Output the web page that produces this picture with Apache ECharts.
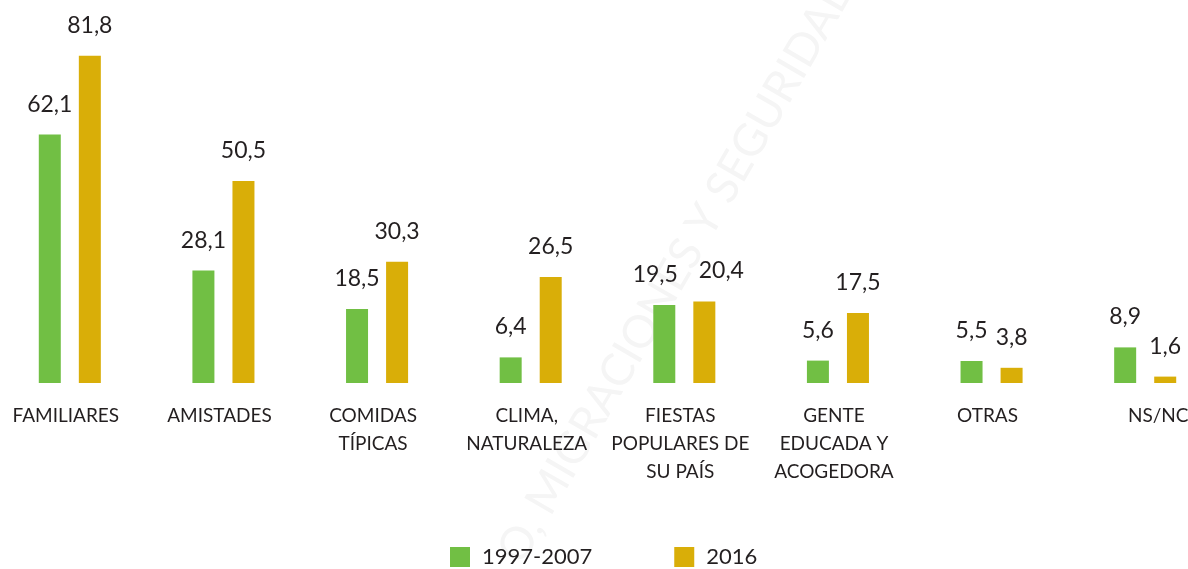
<!DOCTYPE html>
<html>
<head>
<meta charset="utf-8">
<script src="https://cdn.jsdelivr.net/npm/echarts@6/dist/echarts.min.js"></script>
<style>
  html, body { margin: 0; padding: 0; background: #fff; overflow: hidden; }
  #chart { width: 1229px; height: 569px; margin-left: -7px; }
</style>
</head>
<body>
<div id="chart"></div>
<script>
// categorías del eje x
const categories = [
  'FAMILIARES',
  'AMISTADES',
  'COMIDAS\nTÍPICAS',
  'CLIMA,\nNATURALEZA',
  'FIESTAS\nPOPULARES DE\nSU PAÍS',
  'GENTE\nEDUCADA Y\nACOGEDORA',
  'OTRAS',
  'NS/NC'
]
const seriesNames = ['1997-2007', '2016']
const values1997 = [62.1, 28.1, 18.5, 6.4, 19.5, 5.6, 5.5, 8.9]
const values2016 = [81.8, 50.5, 30.3, 26.5, 20.4, 17.5, 3.8, 1.6]

const textColor = '#231f20'
const fontFamily = 'Lato, "Noto Sans", sans-serif'

const chart = echarts.init(document.getElementById('chart'))

const labelOpt = {
  show: true,
  position: 'top',
  distance: 19,
  color: textColor,
  fontSize: 23,
  fontFamily: fontFamily,
  formatter: p => p.value.toFixed(1).replace('.', ',')
}

// la última etiqueta queda algo desplazada a la derecha en el original
const xData = categories.map((c, i) => i === categories.length - 1
  ? { value: c, textStyle: { padding: [0, 0, 0, 26] } }
  : c)

// en FIESTAS las etiquetas de valor se separan para no solaparse
function withOffset(arr, dx) {
  return arr.map((v, i) => i === 4 ? { value: v, label: { offset: [dx, 0] } } : v)
}

chart.setOption({
  animation: false,
  color: ['#71bf44', '#d9ae08'],
  // marca de agua tenue
  graphic: [{
    type: 'text',
    rotation: 60 * Math.PI / 180,
    x: 497,
    y: 548,
    style: {
      text: 'O, MIGRACIONES Y SEGURIDAD',
      fontSize: 45,
      fontFamily: fontFamily,
      fill: '#f5f5f5'
    },
    z: -1
  }],
  legend: {
    data: seriesNames,
    left: 452,
    bottom: -4,
    icon: 'rect',
    itemWidth: 20,
    itemHeight: 20,
    itemGap: 82,
    textStyle: {
      color: textColor,
      fontSize: 22,
      fontFamily: fontFamily,
      padding: [0, 0, 0, 7]
    }
  },
  grid: {
    left: 0,
    right: 0,
    top: 23,
    bottom: 186,
    containLabel: false
  },
  xAxis: {
    type: 'category',
    data: xData,
    axisLine: { show: false },
    axisTick: { show: false },
    axisLabel: {
      interval: 0,
      margin: 19,
      color: textColor,
      fontSize: 19,
      lineHeight: 28,
      fontFamily: fontFamily,
      padding: [0, 8, 0, 0]
    }
  },
  yAxis: {
    type: 'value',
    min: 0,
    max: 90,
    show: false,
    splitLine: { show: false }
  },
  series: [
    {
      name: seriesNames[0],
      type: 'bar',
      data: withOffset(values1997, -9),
      barWidth: 22,
      barGap: '82%',
      label: labelOpt
    },
    {
      name: seriesNames[1],
      type: 'bar',
      data: withOffset(values2016, 17),
      barWidth: 22,
      label: labelOpt
    }
  ]
})
</script>
</body>
</html>
